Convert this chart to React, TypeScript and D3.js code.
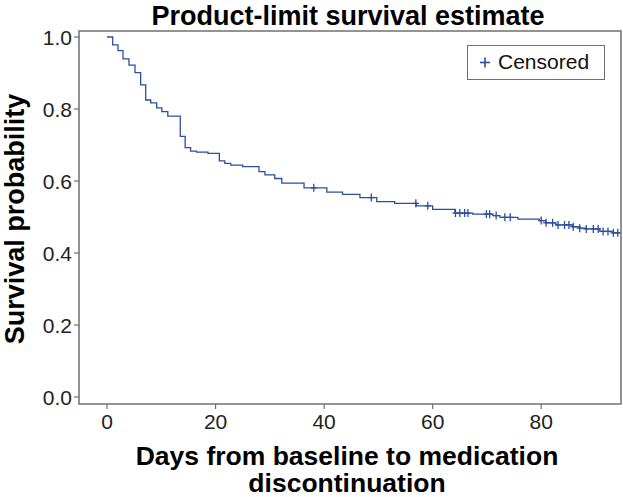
import React from "react";
import * as d3 from "d3";

const eventDays = [0, 1.05, 2.03, 2.95, 4.05, 5.16, 6.2, 7.13, 8.05, 9.15, 10.1, 11.2, 13.5, 14.4, 15.4, 16.5, 18.6, 20.7, 21.7, 22.8, 25, 28, 29.1, 30.9, 32.2, 36.3, 40.5, 43.4, 46.6, 49.7, 53, 57, 60, 64.1, 67.4, 71.1, 72.4, 75.7, 79.7, 80.8, 82.7, 85.8, 87.1, 88.2, 90.8, 93.2];
const survival = [1.0, 0.978, 0.962, 0.939, 0.922, 0.901, 0.867, 0.825, 0.817, 0.803, 0.793, 0.78, 0.724, 0.693, 0.683, 0.68, 0.677, 0.656, 0.649, 0.644, 0.64, 0.626, 0.617, 0.607, 0.594, 0.581, 0.569, 0.563, 0.554, 0.543, 0.538, 0.531, 0.521, 0.511, 0.508, 0.504, 0.499, 0.494, 0.49, 0.484, 0.478, 0.473, 0.469, 0.467, 0.46, 0.456];
const censoredDays = [38.1, 48.7, 56.9, 59.1, 64.2, 65, 65.9, 66.5, 69.9, 70.5, 71.7, 73.3, 74.3, 80, 80.9, 82.1, 83.1, 84.3, 85.1, 85.9, 87.1, 88.3, 89.6, 90.5, 91.4, 92.3, 93.3, 94.1];
const lastDay = 94.7;
const xTicks = [0, 20, 40, 60, 80];
const yTicks = [0, 0.2, 0.4, 0.6, 0.8, 1.0];

const W = 623, H = 497;
const left = 79, right = 621, top = 31, bottom = 404;
const FONT = "'Liberation Sans', Arial, sans-serif";
const LINE = "#2a4f9f";

export default function App() {
  const x = d3.scaleLinear().domain([-5.16, 94.7]).range([left, right]);
  const y = d3.scaleLinear().domain([-0.0194, 1.0167]).range([bottom, top]);

  const pts: [number, number][] = eventDays.map((d, i) => [d, survival[i]]);
  pts.push([lastDay, survival[survival.length - 1]]);
  const line = d3.line<[number, number]>().x(p => x(p[0])).y(p => y(p[1])).curve(d3.curveStepAfter);

  const survAt = (t: number) => {
    let s = survival[0];
    for (let i = 0; i < eventDays.length; i++) if (eventDays[i] <= t) s = survival[i];
    return s;
  };

  return (
    <svg width={W} height={H} style={{ position: "absolute", left: 0, top: 0, background: "#fff" }} fontFamily={FONT}>
      <rect x={0} y={0} width={W} height={H} fill="#fff" />
      <text x={348} y={25} textAnchor="middle" fontSize={27} fontWeight="bold" fill="#000">Product-limit survival estimate</text>
      <path d={line(pts) || ""} fill="none" stroke={LINE} strokeWidth={1.3} />
      {censoredDays.map((c, i) => {
        const cx = x(c), cy = y(survAt(c));
        return (
          <g key={i} stroke={LINE} strokeWidth={1.3}>
            <line x1={cx} x2={cx} y1={cy - 4} y2={cy + 4} />
            <line x1={cx - 3} x2={cx + 3} y1={cy} y2={cy} />
          </g>
        );
      })}
      <rect x={left} y={top} width={right - left} height={bottom - top} fill="none" stroke="#707070" strokeWidth={1.5} />
      {yTicks.map(t => (
        <g key={t}>
          <line x1={left - 5} x2={left} y1={y(t)} y2={y(t)} stroke="#707070" strokeWidth={1.2} />
          <text x={72} y={y(t) + 7.5} textAnchor="end" fontSize={21} fill="#222">{t.toFixed(1)}</text>
        </g>
      ))}
      {xTicks.map(t => (
        <g key={t}>
          <line x1={x(t)} x2={x(t)} y1={bottom} y2={bottom + 5} stroke="#707070" strokeWidth={1.2} />
          <text x={x(t)} y={429} textAnchor="middle" fontSize={21} fill="#222">{t}</text>
        </g>
      ))}
      <text transform={`translate(24,219) rotate(-90)`} textAnchor="middle" fontSize={27} fontWeight="bold" fill="#000">Survival probability</text>
      <text x={347} y={465} textAnchor="middle" fontSize={26.5} fontWeight="bold" fill="#000">Days from baseline to medication</text>
      <text x={347} y={492} textAnchor="middle" fontSize={26.5} fontWeight="bold" fill="#000">discontinuation</text>
      <g>
        <rect x={467.5} y={45.5} width={137} height={34} fill="#fff" stroke="#707070" strokeWidth={1} />
        <line x1={480} x2={490} y1={62.5} y2={62.5} stroke={LINE} strokeWidth={1.6} />
        <line x1={485} x2={485} y1={57.5} y2={67.5} stroke={LINE} strokeWidth={1.6} />
        <text x={498} y={69} fontSize={21} fill="#111">Censored</text>
      </g>
    </svg>
  );
}
